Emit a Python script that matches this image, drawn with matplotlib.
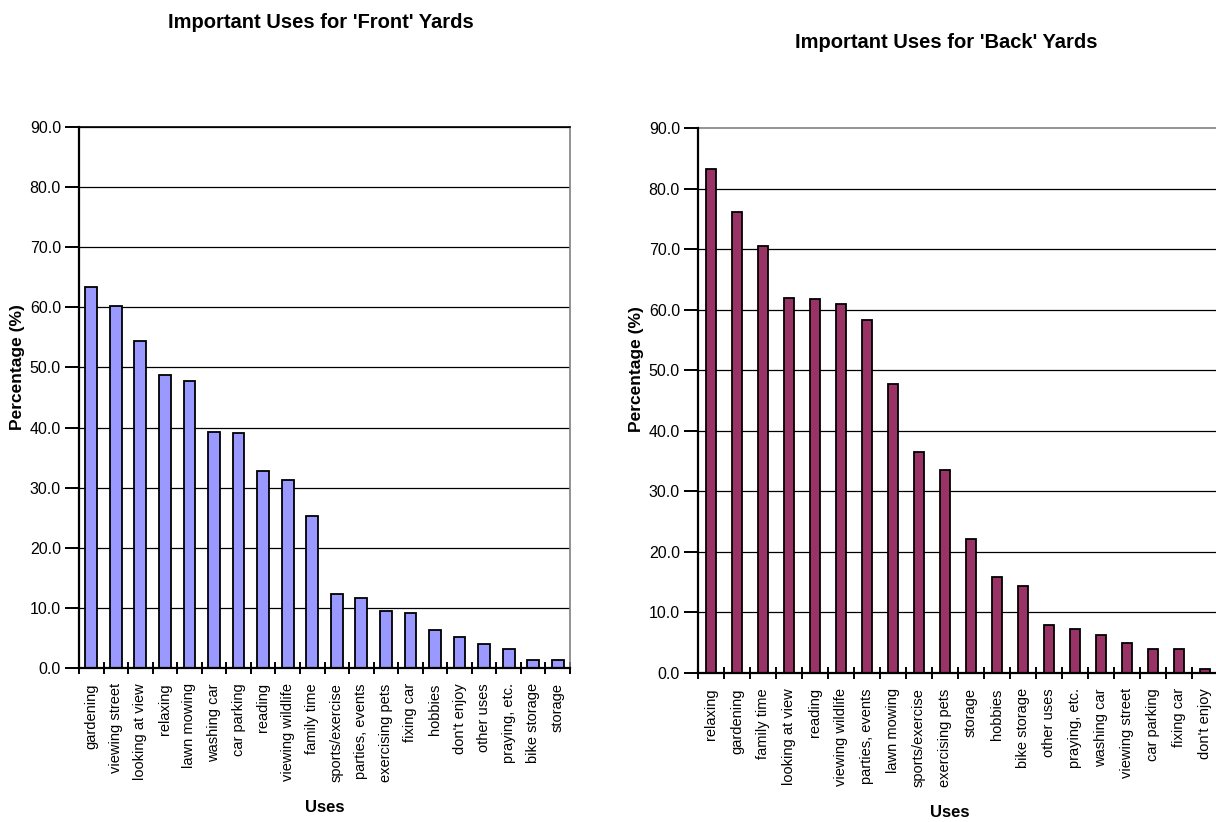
import numpy as np
import matplotlib
matplotlib.use("Agg")
import matplotlib.pyplot as plt
from matplotlib.ticker import FormatStrFormatter

plt.rcParams['font.family'] = ['Liberation Sans', 'DejaVu Sans']

# ---- data -------------------------------------------------------------
front_uses = ["gardening", "viewing street", "looking at view", "relaxing",
              "lawn mowing", "washing car", "car parking", "reading",
              "viewing wildlife", "family time", "sports/exercise",
              "parties, events", "exercising pets", "fixing car", "hobbies",
              "don't enjoy", "other uses", "praying, etc.", "bike storage",
              "storage"]
front_pct = [63.4, 60.3, 54.4, 48.7, 47.7, 39.3, 39.1, 32.8, 31.3, 25.3,
             12.3, 11.6, 9.4, 9.2, 6.4, 5.2, 4.0, 3.2, 1.3, 1.3]

back_uses = ["relaxing", "gardening", "family time", "looking at view",
             "reading", "viewing wildlife", "parties, events", "lawn mowing",
             "sports/exercise", "exercising pets", "storage", "hobbies",
             "bike storage", "other uses", "praying, etc.", "washing car",
             "viewing street", "car parking", "fixing car", "don't enjoy"]
back_pct = [83.3, 76.1, 70.5, 62.0, 61.7, 60.9, 58.3, 47.8, 36.5, 33.5,
            22.2, 15.8, 14.3, 8.0, 7.3, 6.2, 5.0, 4.0, 4.0, 0.6]

y_ticks = [0, 10, 20, 30, 40, 50, 60, 70, 80, 90]

W, H = 1216, 822
fig = plt.figure(figsize=(W / 100, H / 100), dpi=100)


def px_axes(x0, x1, y_top, y_bot):
    return fig.add_axes([x0 / W, (H - y_bot) / H, (x1 - x0) / W, (y_bot - y_top) / H])


def draw(ax, cats, vals, color, width, top_grey):
    n = len(cats)
    x = np.arange(n)
    ax.bar(x, vals, width=width, color=color, edgecolor='black',
           linewidth=1.3, zorder=3)
    ax.set_xlim(-0.5, n - 0.5)
    ax.set_ylim(0, 90)
    ax.set_yticks(y_ticks)
    ax.yaxis.set_major_formatter(FormatStrFormatter('%.1f'))
    grid_vals = y_ticks[1:-1] if top_grey else y_ticks[1:]
    for g in grid_vals:
        ax.axhline(g, color='black', lw=0.9, zorder=1)
    ax.set_xticks(x)
    ax.set_xticklabels(cats, rotation=90, fontsize=10.5)
    ax.set_xticks(np.arange(-0.5, n, 1.0), minor=True)
    ax.tick_params(axis='x', which='major', length=0, pad=11)
    ax.tick_params(axis='x', which='minor', length=8, width=1.4,
                   direction='inout', color='black')
    ax.tick_params(axis='y', length=10, width=1.4, pad=3,
                   labelsize=11.5, direction='out')
    for s in ('left', 'bottom'):
        ax.spines[s].set_color('black')
        ax.spines[s].set_linewidth(1.6)
        ax.spines[s].set_zorder(4)
    for s in ('top', 'right'):
        ax.spines[s].set_color('#808080')
        ax.spines[s].set_linewidth(1.2)
    if not top_grey:
        ax.spines['top'].set_color('black')


ax1 = px_axes(79, 570, 127, 668)
draw(ax1, front_uses, front_pct, '#9999FF', 0.48, top_grey=False)

ax2 = px_axes(698, 1218, 128, 673)
draw(ax2, back_uses, back_pct, '#993366', 0.40, top_grey=True)

# ---- titles and axis labels -------------------------------------------
def ftext(x, y, s, **kw):
    fig.text(x / W, 1 - y / H, s, ha='center', va='center', **kw)


ftext(321, 23, "Important Uses for 'Front' Yards", fontsize=14.5, fontweight='bold')
ftext(946, 42, "Important Uses for 'Back' Yards", fontsize=14.5, fontweight='bold')
ftext(18, 367, "Percentage (%)", fontsize=12.5, fontweight='bold', rotation=90)
ftext(637, 369, "Percentage (%)", fontsize=12.5, fontweight='bold', rotation=90)
ftext(325, 807, "Uses", fontsize=12, fontweight='bold')
ftext(950, 812, "Uses", fontsize=12, fontweight='bold')

fig.savefig("out.png", dpi=100, facecolor='white')
